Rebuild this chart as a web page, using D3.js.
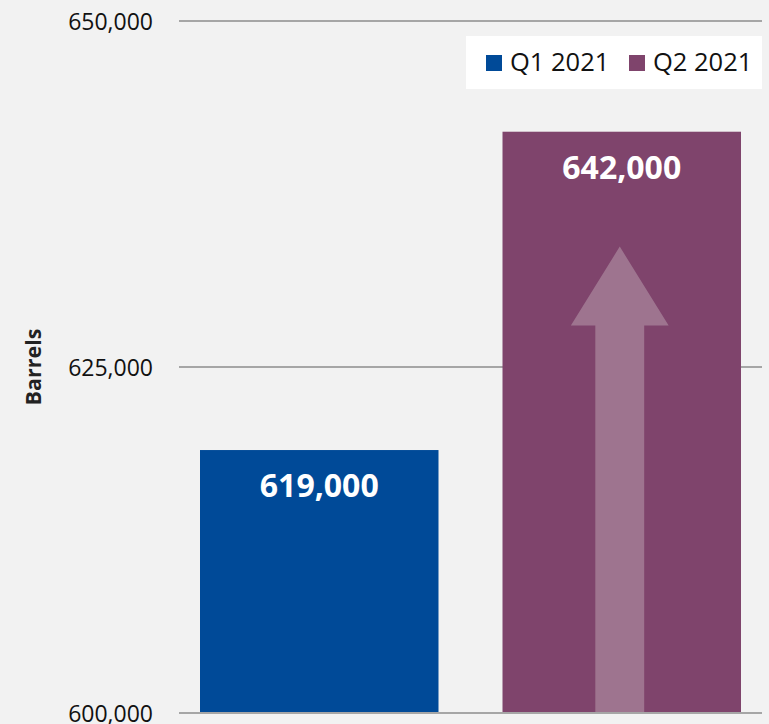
<!DOCTYPE html>
<html>
<head>
<meta charset="utf-8">
<script src="https://cdn.jsdelivr.net/npm/d3@7"></script>
<style>
    html, body { margin: 0; padding: 0; background: #f2f2f2; }
    svg { display: block; font-family: "Open Sans", "Noto Sans", sans-serif; }
</style>
</head>
<body>
<svg id="chart" width="769" height="724"></svg>
<script>
// chart data
var quarters = ["Q1 2021", "Q2 2021"];
var barrels = [619000, 642000];
var barColors = ["#004a98", "#7f446c"];
var yTicks = [600000, 625000, 650000];
// arrow inside the Q2 bar: head base and tip, in barrels
var arrowLevels = [628000, 633700];

var svg = d3.select("#chart");

var x = d3.scaleBand()
    .domain(quarters)
    .range([169.75, 771.25])
    .paddingInner(0.2116)
    .paddingOuter(0.1);

var y = d3.scaleLinear()
    .domain([600000, 650000])
    .range([713, 21]);

var fmt = d3.format(",");

// tick labels
var yAxis = d3.axisLeft(y)
    .tickValues(yTicks)
    .tickFormat(fmt)
    .tickSize(0)
    .tickPadding(0);

var axisG = svg.append("g")
    .attr("transform", "translate(153,0)")
    .call(yAxis);
axisG.select(".domain").remove();
axisG.selectAll("text")
    .attr("font-family", "Open Sans, Noto Sans, sans-serif")
    .attr("font-size", "23px")
    .attr("fill", "#111")
    .attr("dy", "0.36em");

// gridlines
svg.append("g").selectAll("line")
    .data(yTicks)
    .enter().append("line")
    .attr("x1", 179)
    .attr("x2", 762)
    .attr("y1", function (d) { return y(d); })
    .attr("y2", function (d) { return y(d); })
    .attr("stroke", "#8c8c8c")
    .attr("stroke-width", 1.5);

// bars
svg.append("g").selectAll("rect")
    .data(quarters)
    .enter().append("rect")
    .attr("x", function (d) { return x(d); })
    .attr("y", function (d, i) { return y(barrels[i]); })
    .attr("width", x.bandwidth())
    .attr("height", function (d, i) { return y(600000) - y(barrels[i]); })
    .attr("fill", function (d, i) { return barColors[i]; });

// up arrow on the Q2 bar
var cx = x(quarters[1]) + x.bandwidth() / 2 - 2;
var shaftW = x.bandwidth() * 0.205;
var headW = x.bandwidth() * 0.41;
var yBase = y(600000), yHead = y(arrowLevels[0]), yTip = y(arrowLevels[1]);
svg.append("path")
    .attr("d", "M" + (cx - shaftW / 2) + "," + yBase +
        "L" + (cx - shaftW / 2) + "," + yHead +
        "L" + (cx - headW / 2) + "," + yHead +
        "L" + cx + "," + yTip +
        "L" + (cx + headW / 2) + "," + yHead +
        "L" + (cx + shaftW / 2) + "," + yHead +
        "L" + (cx + shaftW / 2) + "," + yBase + "Z")
    .attr("fill", "#9e748f");

// bottom axis line over the bars
svg.append("line")
    .attr("x1", 179).attr("x2", 762)
    .attr("y1", y(600000)).attr("y2", y(600000))
    .attr("stroke", "#a6a6a6")
    .attr("stroke-width", 2);

// value labels
svg.append("g").selectAll("text")
    .data(quarters)
    .enter().append("text")
    .attr("x", function (d) { return x(d) + x.bandwidth() / 2; })
    .attr("y", function (d, i) { return y(barrels[i]) + 47; })
    .attr("text-anchor", "middle")
    .attr("font-size", "32px")
    .attr("font-weight", "bold")
    .attr("fill", "#ffffff")
    .text(function (d, i) { return fmt(barrels[i]); });

// y axis title
svg.append("text")
    .attr("transform", "translate(41," + y(625000) + ") rotate(-90)")
    .attr("text-anchor", "middle")
    .attr("font-size", "21.5px")
    .attr("font-weight", "bold")
    .attr("fill", "#222")
    .text("Barrels");

// legend
var legend = svg.append("g");
legend.append("rect")
    .attr("x", 466).attr("y", 36)
    .attr("width", 296).attr("height", 53)
    .attr("fill", "#ffffff");
var legendX = [486, 629];
var items = legend.selectAll("g.item")
    .data(quarters)
    .enter().append("g")
    .attr("class", "item")
    .attr("transform", function (d, i) { return "translate(" + legendX[i] + ",55)"; });
items.append("rect")
    .attr("width", 16).attr("height", 16)
    .attr("fill", function (d, i) { return barColors[i]; });
items.append("text")
    .attr("x", 24).attr("y", 16)
    .attr("font-size", "25.5px")
    .attr("fill", "#111")
    .text(function (d) { return d; });
</script>
</body>
</html>
